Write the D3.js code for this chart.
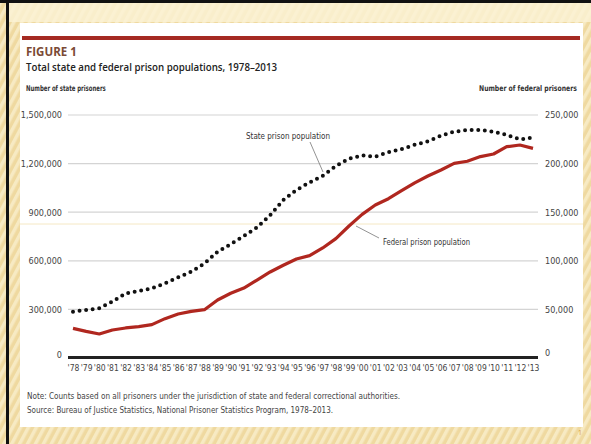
<!DOCTYPE html>
<html><head><meta charset="utf-8">
<script src="https://cdn.jsdelivr.net/npm/d3@7"></script>
<style>
html,body{margin:0;padding:0;background:#fff;}
svg{display:block;}
</style></head>
<body>
<svg id="c" width="591" height="444"></svg>
<script>
const years = d3.range(1978, 2014);
const yearLabels = years.map(y => "'" + String(y).slice(2));
const stateValues = [286000, 296000, 307000, 348000, 399000, 414000, 430000, 461000, 498000, 533000,
  584000, 656000, 703000, 753000, 806000, 882000, 975000, 1037000, 1084000, 1125000,
  1185000, 1230000, 1251000, 1243000, 1270000, 1290000, 1316000, 1338000, 1372000, 1397000,
  1407000, 1407000, 1397000, 1377000, 1350000, 1360000];
const federalValues = [30500, 27400, 24700, 28800, 30900, 32200, 34300, 40500, 45300, 48000,
  49700, 59700, 66600, 72000, 80200, 88500, 95400, 101900, 105300, 113200,
  122800, 135800, 147800, 157400, 163900, 172100, 180200, 187200, 193400, 200300,
  202400, 207200, 209900, 217400, 219100, 215700];
const leftTicks = [0, 300000, 600000, 900000, 1200000, 1500000];
const rightTicks = [0, 50000, 100000, 150000, 200000, 250000];

const svg = d3.select("#c");
const defs = svg.append("defs");
const pat = defs.append("pattern").attr("id","stripes").attr("patternUnits","userSpaceOnUse")
  .attr("width",7).attr("height",7).attr("patternTransform","rotate(28)");
pat.append("rect").attr("width",7).attr("height",7).attr("fill","#efd9a0");
pat.append("rect").attr("width",3.5).attr("height",7).attr("fill","#f7eac3");

svg.append("rect").attr("width",591).attr("height",444).attr("fill","url(#stripes)");
svg.append("rect").attr("x",9).attr("y",3).attr("width",582).attr("height",19).attr("fill","#fbf2d6").attr("opacity",0.8);
svg.append("rect").attr("x",0).attr("y",0).attr("width",591).attr("height",3).attr("fill","#111");
svg.append("rect").attr("x",6).attr("y",0).attr("width",3).attr("height",444).attr("fill","#111");

svg.append("rect").attr("x",20).attr("y",23).attr("width",563).attr("height",404).attr("fill","#fff");
svg.append("rect").attr("x",22).attr("y",36).attr("width",558).attr("height",4).attr("fill","#a52a22");

const font = "'Liberation Sans Narrow','DejaVu Sans Condensed','Arial Narrow',sans-serif";
svg.append("text").attr("x",26).attr("y",56).text("FIGURE 1")
  .attr("font-family","'Open Sans',sans-serif").attr("font-weight",700).attr("font-size",11.5).attr("fill","#7b4a35");
svg.append("text").attr("x",26).attr("y",71).text("Total state and federal prison populations, 1978\u20132013")
  .attr("font-family","'Open Sans',sans-serif").attr("font-weight",600).attr("font-size",11).attr("fill","#222")
  .attr("textLength",251).attr("lengthAdjust","spacingAndGlyphs");

// condensed text helper: scales horizontally to the target width
function condensed(x0, y0, str, width, size, weight, anchor) {
  const t = svg.append("text").attr("x",0).attr("y",0).text(str)
    .attr("font-family",font).attr("font-weight",weight).attr("font-size",size).attr("fill","#333");
  const w = t.node().getComputedTextLength();
  const k = width / w;
  const left = anchor === "end" ? x0 - width : x0;
  t.attr("transform", `translate(${left},${y0}) scale(${k},1)`);
  return t;
}
condensed(26, 91, "Number of state prisoners", 80, 8, 700, "start");
condensed(577, 91, "Number of federal prisoners", 98, 8, 700, "end");

const x = d3.scaleLinear().domain([1978, 2013]).range([73, 533]);
const yL = d3.scaleLinear().domain([0, 1500000]).range([358, 115]);
const yR = d3.scaleLinear().domain([0, 250000]).range([358, 115]);

svg.append("line").attr("x1",20).attr("x2",583).attr("y1",224).attr("y2",224).attr("stroke","#f5e8c4").attr("stroke-width",1);

svg.append("g").selectAll("line").data(leftTicks.slice(1)).join("line")
  .attr("x1",68).attr("x2",538).attr("y1",d=>yL(d)).attr("y2",d=>yL(d))
  .attr("stroke","#d4d4d4").attr("stroke-width",1.2);

const leftAxis = d3.axisLeft(yL).tickValues(leftTicks).tickSize(0).tickPadding(0).tickFormat(d3.format(","));
const gl = svg.append("g").attr("transform","translate(62,0)").call(leftAxis);
gl.select(".domain").remove();
gl.selectAll("text").attr("font-family",font).attr("font-size",9).attr("fill","#444");
gl.selectAll(".tick").filter(d=>d===0).select("text").attr("dy","-0.1em");

const rightAxis = d3.axisRight(yR).tickValues(rightTicks).tickSize(0).tickPadding(0).tickFormat(d3.format(","));
const gr = svg.append("g").attr("transform","translate(545,0)").call(rightAxis);
gr.select(".domain").remove();
gr.selectAll("text").attr("font-family",font).attr("font-size",9).attr("fill","#444");
gr.selectAll(".tick").filter(d=>d===0).select("text").attr("dy","-0.3em");

const xAxis = d3.axisBottom(x).tickValues(years).tickSize(0).tickPadding(7).tickFormat((d,i)=>yearLabels[i]);
const gx = svg.append("g").attr("transform","translate(0,358)").call(xAxis);
gx.select(".domain").remove();
gx.selectAll("text").attr("font-family",font).attr("font-size",8.5).attr("fill","#444");
svg.append("line").attr("x1",68).attr("x2",538).attr("y1",357.5).attr("y2",357.5).attr("stroke","#222").attr("stroke-width",3);

const lineFed = d3.line().x((d,i)=>x(years[i])).y(d=>yR(d));
svg.append("path").datum(federalValues).attr("d",lineFed).attr("fill","none")
  .attr("stroke","#b0271f").attr("stroke-width",3.2).attr("stroke-linejoin","round");
const lineState = d3.line().x((d,i)=>x(years[i])).y(d=>yL(d));
svg.append("path").datum(stateValues).attr("d",lineState).attr("fill","none")
  .attr("stroke","#111").attr("stroke-width",4).attr("stroke-linecap","round")
  .attr("stroke-dasharray","0,6.6");

svg.append("line").attr("x1",310).attr("y1",142).attr("x2",323).attr("y2",172).attr("stroke","#777").attr("stroke-width",0.8);
svg.append("text").attr("x",246).attr("y",139).text("State prison population")
  .attr("font-family",font).attr("font-size",8.5).attr("fill","#333")
  .attr("textLength",84).attr("lengthAdjust","spacingAndGlyphs");
svg.append("line").attr("x1",356).attr("y1",226).attr("x2",379).attr("y2",238).attr("stroke","#777").attr("stroke-width",0.8);
svg.append("text").attr("x",383).attr("y",245).text("Federal prison population")
  .attr("font-family",font).attr("font-size",8.5).attr("fill","#333")
  .attr("textLength",87).attr("lengthAdjust","spacingAndGlyphs");

svg.append("text").attr("x",27).attr("y",399).text("Note: Counts based on all prisoners under the jurisdiction of state and federal correctional authorities.")
  .attr("font-family",font).attr("font-size",8).attr("fill","#444")
  .attr("textLength",373).attr("lengthAdjust","spacingAndGlyphs");
svg.append("text").attr("x",27).attr("y",413).text("Source: Bureau of Justice Statistics, National Prisoner Statistics Program, 1978\u20132013.")
  .attr("font-family",font).attr("font-size",8).attr("fill","#444")
  .attr("textLength",306).attr("lengthAdjust","spacingAndGlyphs");

svg.append("text").attr("x",578).attr("y",435).text("1").attr("font-family","'Open Sans',sans-serif").attr("font-size",7).attr("fill","#d9a040");
</script>
</body></html>
